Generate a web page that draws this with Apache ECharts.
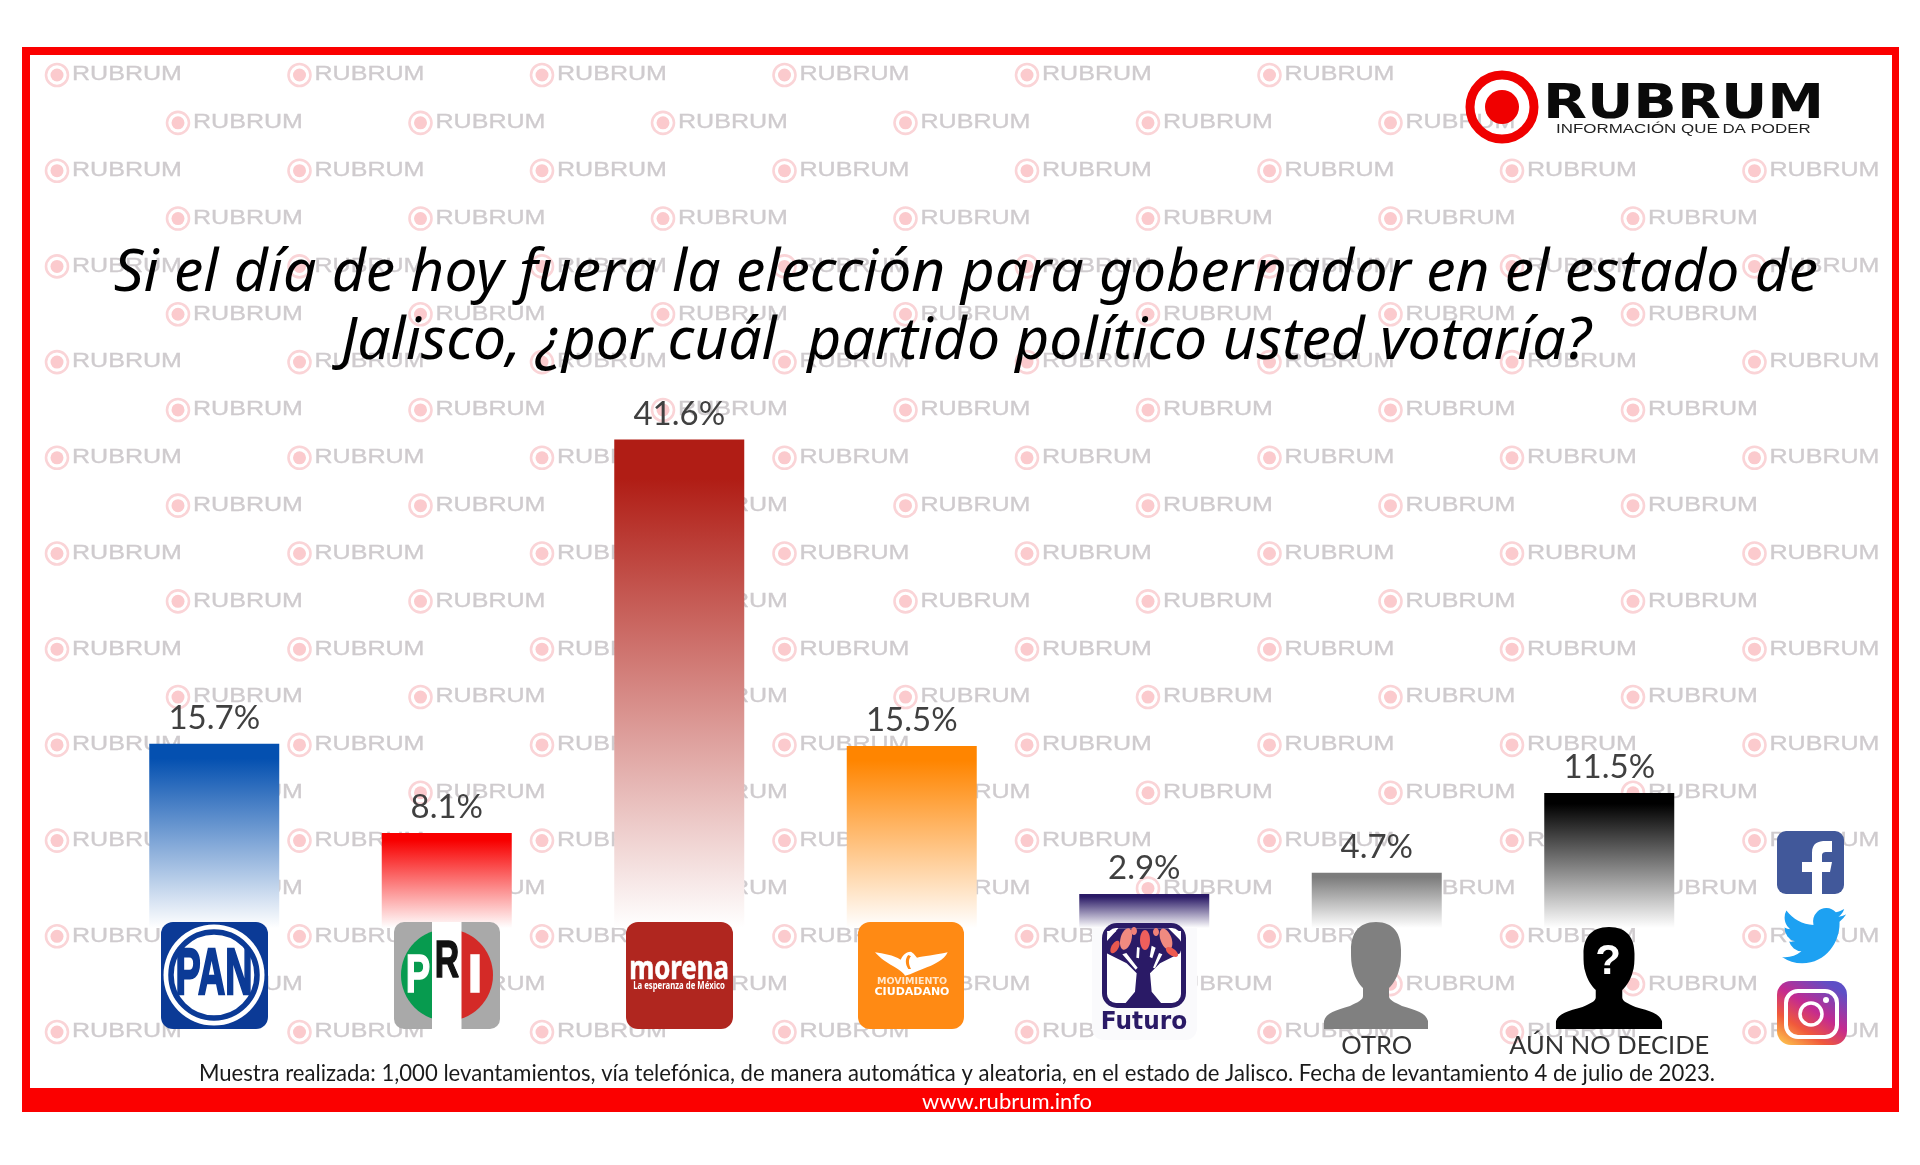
<!DOCTYPE html>
<html lang="es">
<head>
<meta charset="utf-8">
<title>Rubrum Jalisco</title>
<style>html,body{margin:0;padding:0;background:#fff}#c{width:1920px;height:1165px}</style>
<script src="https://cdn.jsdelivr.net/npm/echarts@6/dist/echarts.min.js"></script>
</head>
<body>
<div id="c"></div>
<script>
const categories = ['PAN','PRI','MORENA','MOVIMIENTO CIUDADANO','FUTURO','OTRO','AÚN NO DECIDE'];
const percentages = [15.7, 8.1, 41.6, 15.5, 2.9, 4.7, 11.5];
const tickLabels = ['','','','','','OTRO','AÚN NO DECIDE'];
const barColors = ['#0450b0','#f80000','#b01d15','#ff8500','#2a1a66','#7c7c7c','#000000'];
const titleText = 'Si el día de hoy fuera la elección para gobernador en el estado de\nJalisco, ¿por cuál  partido político usted votaría?';
const noteText = 'Muestra realizada: 1,000 levantamientos, vía telefónica, de manera automática y aleatoria, en el estado de Jalisco. Fecha de levantamiento 4 de julio de 2023.';
const siteText = 'www.rubrum.info';
const FONT = 'Lato, "Noto Sans", sans-serif';

const reg = (n, d) => echarts.graphic.registerShape(n, echarts.graphic.extendPath(d));
reg('silhouette','M0,0 C-18,0 -25,12 -25,28 C-25,36 -25,42 -23,48 C-21,56 -17,62 -13,66 L-13,74 C-13,78 -18,80 -26,84 C-40,88 -50,91 -52,99 L-52,107 L52,107 L52,99 C50,91 40,88 26,84 C18,80 13,78 13,74 L13,66 C17,62 21,56 23,48 C25,42 25,36 25,28 C25,12 18,0 0,0 Z');
reg('fbf','M1812,894 L1812,872 L1802,872 L1802,862 L1812,862 L1812,853 C1812,843 1818,841 1826,841 L1832,841 L1832,852 L1827,852 C1823,852 1822,853 1822,856 L1822,862 L1832,862 L1830,872 L1822,872 L1822,894 Z');
reg('bird','M23.953 4.57 a10 10 0 0 1 -2.825.775 4.958 4.958 0 0 0 2.163-2.723 c-.951.555-2.005.959-3.127 1.184 a4.92 4.92 0 0 0 -8.384 4.482 C7.69 8.095 4.067 6.13 1.64 3.162 a4.822 4.822 0 0 0 -.666 2.475 c0 1.71.87 3.213 2.188 4.096 a4.904 4.904 0 0 1 -2.228-.616 v.06 a4.923 4.923 0 0 0 3.946 4.827 4.996 4.996 0 0 1 -2.212.085 4.936 4.936 0 0 0 4.604 3.417 9.867 9.867 0 0 1 -6.102 2.105 c-.39 0-.779-.023-1.17-.067 a13.995 13.995 0 0 0 7.557 2.209 c9.053 0 13.998-7.496 13.998-13.985 0-.21 0-.42-.015-.63 A9.935 9.935 0 0 0 24 4.59 z');
reg('eagle','M60,100 C85,104 115,108 137,122 C142,112 150,98 168,98 L176,104 L186,116 C205,112 240,108 278,100 C268,122 238,138 203,150 C188,155 172,165 150,170 C140,150 90,135 60,100 Z');
reg('eagledetail','M160,108 C150,118 150,135 160,150 L168,150 C160,135 160,120 168,112 Z');
reg('tree','M60,85 L100,40 L250,40 L295,85 L285,115 L225,145 L195,175 L200,230 L235,272 L115,272 L150,230 L155,175 L125,145 L65,115 Z');
reg('slashes','M112,118 L124,114 L158,158 L152,164 Z M232,118 L222,114 L204,158 L210,160 Z M156,96 L164,98 L162,130 L154,128 Z M200,92 L212,98 L202,130 L194,126 Z M66,48 L94,48 L68,68 Z M272,48 L288,48 L288,80 Z');

const g = [];
const Z = 10;
function rect(x,y,w,h,fill,r,z,extra){g.push({type:'rect',z:z==null?Z:z,shape:{x,y,width:w,height:h,r:r||0},style:Object.assign({fill},extra||{}),silent:true});}
function circ(cx,cy,r,fill,stroke,lw,z){g.push({type:'circle',z:z==null?Z:z,shape:{cx,cy,r},style:{fill:fill||'none',stroke:stroke||'none',lineWidth:lw||0},silent:true});}
function ell(cx,cy,rx,ry,rot,fill){g.push({type:'ellipse',z:Z,x:cx,y:cy,rotation:-rot*Math.PI/180,shape:{cx:0,cy:0,rx,ry},style:{fill},silent:true});}
function txt(text,x,y,size,fill,o){o=o||{};g.push({type:'text',z:o.z==null?Z+1:o.z,x,y,scaleX:o.sx||1,scaleY:o.sy||1,silent:true,style:Object.assign({text,fontSize:size,fontFamily:o.font||FONT,fontStyle:o.italic?'italic':'normal',fontWeight:o.weight||'normal',fill,align:o.align||'center',textAlign:o.align||'center',verticalAlign:'middle',textVerticalAlign:'middle'},o.bold?{stroke:fill,lineWidth:o.bold}:{})});}
function shp(name,x,y,sx,sy,fill){g.push({type:name,z:Z,x,y,scaleX:sx,scaleY:sy,style:{fill},silent:true});}

// watermark
for(let row=0;row<21;row++){
  const odd=row%2===1, n=odd?7:8, y=75+row*47.85;
  for(let i=0;i<n;i++){
    if(row<2&&i>=6)continue;
    const cx=(odd?178:57)+i*242.5;
    circ(cx,y,11,'none','#fad4d7',2.6,0);
    circ(cx,y,6.5,'#fbcacd',null,0,0);
    txt('RUBRUM',cx+15,y,19.5,'#cfcbce',{z:0,align:'left',sx:1.285,font:'"Liberation Sans"',bold:0.3});
  }
}

// frame
rect(22,47,1877,8,'#fb0000',0,1);
rect(22,47,8,1065,'#fb0000',0,1);
rect(1892,47,7,1065,'#fb0000',0,1);
rect(22,1088,1877,24,'#fb0000',0,1);
txt(siteText,1007,1102,22,'#ffffff',{z:3});
txt(noteText,957,1074,22.1,'#1a1a1a',{z:3});

// top-right brand logo
circ(1502,107,32,'none','#f00000',9,2);
circ(1502,107,17,'#f00000',null,0,2);
txt('RUBRUM',1543,106,48,'#0a0a0a',{z:3,align:'left',weight:'bold',sx:1.19,font:'"DejaVu Sans"'});
txt('INFORMACIÓN QUE DA PODER',1556,129.5,12,'#222',{z:3,align:'left',sx:1.41,font:'"Liberation Sans"'});

// PAN
rect(161,922,107,107,'#0b3a96',12);
circ(214,975,50.5,'#ffffff');
circ(214,975,43,'#ffffff','#0b3a96',5.5);
txt('PAN',214,976,65,'#0b3a96',{weight:'bold',sx:0.58,font:'"Liberation Sans Narrow","Liberation Sans"',bold:2.5});
// PRI
rect(394,922,106,107,'#a9a9a9',10);
g.push({type:'sector',z:Z,shape:{cx:447,cy:975,r:46,r0:0,startAngle:Math.PI/2,endAngle:Math.PI*1.5},style:{fill:'#079b4f'},silent:true});
g.push({type:'sector',z:Z,shape:{cx:447,cy:975,r:46,r0:0,startAngle:-Math.PI/2,endAngle:Math.PI/2},style:{fill:'#d42a27'},silent:true});
rect(432,922,29.5,107,'#ffffff',0);
txt('P',418,977,54,'#ffffff',{weight:'bold',sx:.68,font:'"Liberation Sans"',bold:1.5});
txt('R',447,963,52,'#111111',{weight:'bold',sx:.65,font:'"Liberation Sans"',bold:1.5});
txt('I',475,977,54,'#ffffff',{weight:'bold',font:'"Liberation Sans"',bold:1.5});
// Morena
rect(626,922,107,107,'#b0261f',12);
txt('morena',679,970,33,'#ffffff',{weight:'bold',sx:.78,font:'"Noto Sans"',bold:.6});
txt('La esperanza de México',679,986,10.5,'#ffffff',{weight:'bold',sx:.74,font:'"Noto Sans"'});
// Movimiento Ciudadano
rect(858,922,106,107,'#ff8a14',12);
shp('eagle',855,919,1/3,1/3,'#fff');
shp('eagledetail',855,919,1/3,1/3,'#ff8a14');
txt('MOVIMIENTO',912,982,9.5,'#ffe7cc',{weight:'bold',font:'"DejaVu Sans"'});
txt('CIUDADANO',912,992,11,'#ffffff',{weight:'bold',font:'"DejaVu Sans"'});
// Futuro
rect(1092,918,105,122,'#fafafc',12,1);
rect(1102,923,84,85,'#2a1a66',15);
rect(1107,928,74,75,'#ffffff',9);
shp('tree',1085,915,1/3,1/3,'#2a1a66');
shp('slashes',1085,915,1/3,1/3,'#ffffff');
ell(1145,940,5,10,0,'#ee5f5c');
ell(1126,939,5.5,11,15,'#f08a80');
ell(1166,939,5.5,11,-20,'#f08a80');
ell(1115,947,3.5,7,30,'#e8584f');
ell(1172,952,3.5,7,-55,'#ee5b50');
ell(1134,931,3,4,0,'#f08078');
ell(1156,932,3,4,0,'#f08078');
txt('Futuro',1144,1022,25,'#2a1a66',{weight:'bold',sx:.93,font:'"DejaVu Sans"'});
// silhouettes
shp('silhouette',1376,922,1,1,'#808080');
shp('silhouette',1609,927,1.02,.953,'#000000');
txt('?',1608,962,42,'#ffffff',{weight:'bold',font:'"Liberation Sans"'});
// social
rect(1777,831,67,63,'#41589a',9);
shp('fbf',0,0,1,1,'#ffffff');
shp('bird',1782,901.5,2.67,2.84,'#1da1f2');
rect(1777,981,70,64,'#c32a8e',14,Z,{fill:{type:'linear',x:0.1,y:1,x2:0.7,y2:0,colorStops:[{offset:0,color:'#fdc04c'},{offset:.3,color:'#f0593b'},{offset:.6,color:'#c42a90'},{offset:1,color:'#5e4fc6'}]}});
rect(1786,991,51,46,'none',12,Z+1,{stroke:'#fff',lineWidth:4});
circ(1811,1014,11,'none','#fff',3.5,Z+1);
circ(1826,1000,3,'#fff',null,0,Z+1);

const option = {
  animation:false,
  backgroundColor:'#ffffff',
  title:{text:titleText,left:961,top:235,textAlign:'center',z:20,
    textStyle:{fontFamily:'"Noto Sans",Lato,sans-serif',fontStyle:'italic',fontWeight:'normal',fontSize:58.8,color:'#000',lineHeight:68}},
  grid:{left:98,top:341,width:1627.5,height:587},
  xAxis:{type:'category',data:categories,axisLine:{show:false},axisTick:{show:false},
    axisLabel:{interval:0,margin:105,fontFamily:FONT,fontSize:25.5,color:'#333',
      formatter:(v,i)=>tickLabels[i]}},
  yAxis:{type:'value',min:0,max:50,show:false,splitLine:{show:false}},
  graphic:{elements:g},
  series:[{type:'bar',barWidth:130,z:5,
    label:{show:true,position:'top',distance:9,fontFamily:FONT,fontSize:33,color:'#404040',formatter:p=>p.value.toFixed(1)+'%'},
    data:percentages.map((v,i)=>({value:v,itemStyle:{color:{type:'linear',x:0,y:0,x2:0,y2:1,colorStops:[{offset:0,color:barColors[i]},{offset:0.08,color:barColors[i]},{offset:1,color:'#ffffff'}]}}}))
  }]
};
echarts.init(document.getElementById('c'),null,{renderer:'canvas'}).setOption(option);
</script>
</body>
</html>
